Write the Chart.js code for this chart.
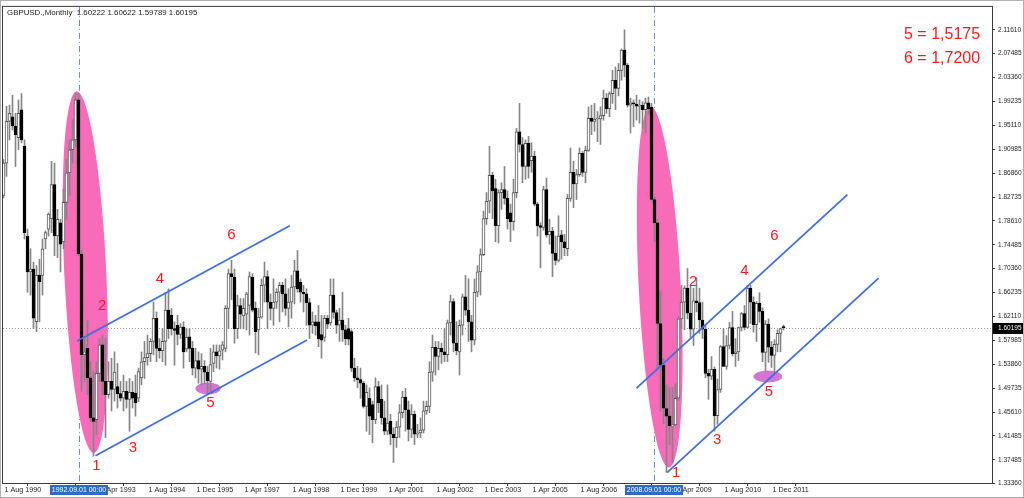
<!DOCTYPE html>
<html><head><meta charset="utf-8">
<script src="https://cdn.jsdelivr.net/npm/chart.js@4/dist/chart.umd.min.js"></script>
<style>html,body{margin:0;padding:0;background:#fff;overflow:hidden}#wrap{width:1024px;height:498px}</style>
</head><body><div id="wrap"><canvas id="c" width="1024" height="498"></canvas></div>
<script>
// Monthly GBPUSD bars, index 0 = Aug 1990 ... 260 = Apr 2012
const opens = [1.830,1.886,1.958,1.966,1.950,1.930,1.978,1.915,1.760,1.698,1.703,1.612,1.692,1.692,1.755,1.772,1.790,1.849,1.760,1.783,1.750,1.818,1.869,1.909,1.926,1.995,1.729,1.555,1.566,1.515,1.446,1.443,1.523,1.572,1.509,1.486,1.509,1.495,1.500,1.488,1.480,1.492,1.478,1.490,1.489,1.480,1.515,1.543,1.550,1.557,1.578,1.618,1.566,1.562,1.578,1.632,1.623,1.600,1.606,1.590,1.603,1.565,1.586,1.566,1.532,1.545,1.530,1.535,1.525,1.509,1.540,1.560,1.553,1.563,1.566,1.635,1.695,1.689,1.600,1.640,1.622,1.625,1.640,1.689,1.635,1.598,1.620,1.675,1.690,1.646,1.635,1.646,1.663,1.675,1.660,1.635,1.646,1.672,1.700,1.680,1.663,1.660,1.645,1.606,1.612,1.612,1.590,1.585,1.618,1.610,1.658,1.628,1.606,1.615,1.598,1.600,1.595,1.532,1.515,1.512,1.506,1.466,1.480,1.469,1.443,1.500,1.478,1.446,1.423,1.440,1.418,1.412,1.430,1.455,1.482,1.460,1.426,1.452,1.418,1.420,1.425,1.458,1.466,1.525,1.568,1.552,1.566,1.560,1.555,1.610,1.647,1.575,1.560,1.606,1.655,1.632,1.612,1.580,1.663,1.698,1.728,1.790,1.820,1.865,1.842,1.778,1.835,1.840,1.825,1.800,1.785,1.835,1.940,1.918,1.880,1.920,1.890,1.898,1.815,1.778,1.775,1.840,1.762,1.768,1.730,1.718,1.762,1.750,1.738,1.825,1.870,1.850,1.866,1.903,1.870,1.908,1.963,1.958,1.962,1.962,1.968,1.998,1.980,2.006,2.029,2.015,2.046,2.081,2.055,1.986,1.990,1.988,1.984,1.986,1.978,1.990,1.982,1.823,1.783,1.609,1.537,1.462,1.449,1.432,1.434,1.480,1.617,1.646,1.670,1.627,1.599,1.648,1.645,1.615,1.599,1.523,1.518,1.530,1.450,1.495,1.569,1.535,1.571,1.602,1.557,1.560,1.602,1.626,1.602,1.670,1.646,1.607,1.644,1.630,1.559,1.608,1.568,1.554,1.573,1.592,1.60222];
const highs = [1.892,1.984,1.986,2.003,1.972,1.995,2.006,1.926,1.772,1.738,1.715,1.709,1.720,1.755,1.769,1.800,1.889,1.886,1.806,1.789,1.841,1.892,1.926,1.961,2.006,2.006,1.735,1.583,1.615,1.543,1.526,1.543,1.583,1.589,1.583,1.543,1.549,1.560,1.540,1.509,1.520,1.509,1.514,1.509,1.520,1.532,1.560,1.578,1.589,1.583,1.646,1.629,1.583,1.600,1.663,1.669,1.635,1.612,1.623,1.609,1.612,1.600,1.600,1.578,1.566,1.560,1.557,1.545,1.535,1.566,1.572,1.572,1.572,1.578,1.640,1.703,1.718,1.703,1.658,1.652,1.652,1.663,1.698,1.695,1.646,1.635,1.686,1.715,1.700,1.660,1.686,1.669,1.680,1.680,1.686,1.669,1.692,1.718,1.735,1.686,1.675,1.669,1.652,1.629,1.623,1.640,1.623,1.623,1.623,1.686,1.686,1.632,1.635,1.663,1.606,1.618,1.598,1.549,1.535,1.532,1.509,1.503,1.498,1.475,1.515,1.509,1.503,1.475,1.503,1.452,1.429,1.440,1.469,1.492,1.497,1.475,1.469,1.458,1.435,1.446,1.475,1.475,1.543,1.589,1.578,1.578,1.575,1.600,1.615,1.658,1.652,1.612,1.615,1.660,1.692,1.686,1.623,1.686,1.709,1.738,1.803,1.835,1.915,1.870,1.858,1.840,1.852,1.880,1.838,1.815,1.858,1.946,1.989,1.930,1.926,1.932,1.921,1.906,1.818,1.783,1.846,1.860,1.789,1.775,1.760,1.795,1.770,1.763,1.832,1.912,1.889,1.875,1.912,1.906,1.915,1.983,1.986,1.989,1.975,1.983,2.012,2.006,2.009,2.046,2.052,2.058,2.083,2.116,2.058,1.998,1.995,2.003,1.995,1.992,1.998,2.000,1.989,1.828,1.789,1.665,1.549,1.503,1.499,1.499,1.505,1.621,1.675,1.674,1.704,1.675,1.670,1.688,1.670,1.646,1.606,1.530,1.552,1.534,1.513,1.571,1.600,1.588,1.611,1.630,1.583,1.603,1.628,1.640,1.675,1.675,1.655,1.647,1.662,1.636,1.614,1.617,1.578,1.581,1.598,1.601,1.60622];
const lows = [1.826,1.863,1.926,1.943,1.880,1.909,1.921,1.755,1.663,1.658,1.600,1.595,1.612,1.658,1.738,1.760,1.766,1.726,1.723,1.698,1.738,1.789,1.829,1.886,1.915,1.726,1.492,1.509,1.486,1.440,1.380,1.417,1.509,1.486,1.412,1.480,1.458,1.475,1.463,1.475,1.458,1.463,1.423,1.463,1.449,1.474,1.503,1.514,1.537,1.543,1.555,1.543,1.549,1.543,1.537,1.583,1.589,1.537,1.572,1.583,1.532,1.560,1.543,1.520,1.515,1.506,1.503,1.505,1.488,1.489,1.526,1.532,1.530,1.546,1.560,1.600,1.650,1.575,1.583,1.600,1.600,1.598,1.589,1.629,1.558,1.555,1.618,1.646,1.600,1.615,1.606,1.635,1.612,1.629,1.623,1.603,1.618,1.643,1.663,1.646,1.629,1.606,1.583,1.592,1.589,1.569,1.549,1.578,1.600,1.606,1.618,1.592,1.578,1.578,1.572,1.572,1.526,1.509,1.498,1.480,1.463,1.423,1.417,1.403,1.436,1.455,1.435,1.417,1.417,1.400,1.369,1.395,1.412,1.446,1.423,1.406,1.412,1.400,1.412,1.412,1.420,1.452,1.455,1.509,1.520,1.529,1.540,1.543,1.543,1.589,1.560,1.555,1.520,1.589,1.623,1.578,1.560,1.572,1.655,1.658,1.726,1.780,1.800,1.790,1.750,1.748,1.806,1.815,1.772,1.750,1.770,1.826,1.905,1.852,1.858,1.860,1.870,1.812,1.760,1.705,1.770,1.758,1.746,1.690,1.710,1.715,1.720,1.726,1.726,1.820,1.809,1.823,1.863,1.863,1.852,1.906,1.935,1.941,1.923,1.918,1.960,1.972,1.966,1.989,1.978,2.002,2.029,2.035,1.983,1.938,1.949,1.960,1.955,1.946,1.938,1.970,1.818,1.750,1.528,1.458,1.436,1.352,1.400,1.368,1.433,1.476,1.600,1.598,1.617,1.585,1.571,1.629,1.592,1.583,1.515,1.478,1.512,1.423,1.435,1.490,1.535,1.530,1.565,1.553,1.535,1.545,1.596,1.598,1.601,1.609,1.594,1.578,1.611,1.543,1.527,1.542,1.533,1.523,1.560,1.560,1.59789];
const closes = [1.886,1.958,1.972,1.950,1.935,1.972,1.926,1.766,1.698,1.703,1.618,1.692,1.681,1.738,1.766,1.798,1.849,1.760,1.789,1.746,1.818,1.869,1.909,1.926,1.995,1.729,1.555,1.560,1.515,1.446,1.440,1.523,1.572,1.509,1.486,1.509,1.495,1.525,1.488,1.480,1.492,1.478,1.490,1.480,1.472,1.526,1.543,1.550,1.557,1.578,1.618,1.566,1.562,1.578,1.632,1.600,1.600,1.597,1.590,1.603,1.560,1.585,1.566,1.532,1.545,1.530,1.535,1.525,1.510,1.538,1.560,1.553,1.562,1.572,1.635,1.695,1.690,1.600,1.640,1.625,1.635,1.660,1.690,1.632,1.595,1.620,1.675,1.690,1.646,1.635,1.646,1.663,1.675,1.660,1.635,1.646,1.672,1.700,1.669,1.663,1.660,1.645,1.606,1.612,1.605,1.583,1.580,1.618,1.608,1.658,1.628,1.606,1.615,1.598,1.583,1.582,1.532,1.515,1.512,1.506,1.466,1.490,1.449,1.443,1.500,1.472,1.446,1.423,1.437,1.418,1.412,1.430,1.455,1.482,1.460,1.426,1.452,1.418,1.420,1.425,1.458,1.466,1.525,1.568,1.552,1.566,1.560,1.555,1.610,1.647,1.575,1.562,1.606,1.655,1.632,1.612,1.580,1.663,1.698,1.728,1.790,1.820,1.865,1.838,1.778,1.835,1.840,1.825,1.790,1.785,1.835,1.940,1.918,1.880,1.920,1.880,1.898,1.815,1.778,1.775,1.840,1.762,1.768,1.730,1.718,1.760,1.750,1.740,1.825,1.870,1.850,1.866,1.903,1.870,1.908,1.963,1.958,1.962,1.963,1.968,1.998,1.980,2.006,2.029,2.015,2.046,2.081,2.055,1.986,1.990,1.988,1.984,1.986,1.978,1.990,1.980,1.823,1.783,1.609,1.537,1.463,1.449,1.432,1.434,1.480,1.617,1.646,1.670,1.627,1.599,1.648,1.645,1.615,1.599,1.523,1.518,1.530,1.450,1.495,1.569,1.535,1.571,1.602,1.557,1.560,1.602,1.626,1.602,1.670,1.646,1.607,1.644,1.630,1.559,1.608,1.568,1.554,1.573,1.592,1.600,1.60195];

const xTickIndex = [0,16,32,48,64,80,96,112,128,144,160,176,192,208,224,240,256];
const xTickLabels = ['1 Aug 1990','1 Dec 1991','1 Apr 1993','1 Aug 1994','1 Dec 1995','1 Apr 1997','1 Aug 1998','1 Dec 1999','1 Apr 2001','1 Aug 2002','1 Dec 2003','1 Apr 2005','1 Aug 2006','1 Dec 2007','1 Apr 2009','1 Aug 2010','1 Dec 2011'];
const yTickValues = [2.11610,2.07485,2.03360,1.99235,1.95110,1.90985,1.86860,1.82735,1.78610,1.74485,1.70360,1.66235,1.62110,1.57985,1.53860,1.49735,1.45610,1.41485,1.37360,1.33360];
const yTickLabels = ['2.11610','2.07485','2.03360','1.99235','1.95110','1.90985','1.86860','1.82735','1.78610','1.74485','1.70360','1.66235','1.62110','1.57985','1.53860','1.49735','1.45610','1.41485','1.37485','1.33360'];

const headerText = 'GBPUSD.,Monthly  1.60222 1.60622 1.59789 1.60195';
const currentPrice = 1.60195;
const currentPriceLabel = '1.60195';
const markerMonths = [25, 217];
const markerLabels = ['1992.09.01 00:00', '2008.09.01 00:00'];
const noteTexts = ['5 = 1,5175', '6 = 1,7200'];
// annotation geometry in data units (month index, price)
const trendLines = [
  [30.67, 1.3807, 101.2, 1.5804],
  [24.57, 1.5787, 95.43, 1.7777],
  [211.0, 1.4974, 281.3, 1.8314],
  [221.2, 1.3516, 291.7, 1.6873]
];
const waveLabels = [
  ['1', 31.0, 1.3631], ['2', 32.9, 1.6393], ['3', 43.1, 1.3945], ['4', 52.1, 1.6861], ['5', 69.0, 1.4717], ['6', 76.0, 1.7616],
  ['1', 224.2, 1.3516], ['2', 229.9, 1.6816], ['3', 237.9, 1.4089], ['4', 247.0, 1.7005], ['5', 255.1, 1.4918], ['6', 257.0, 1.7605]
];
const bigEllipses = [
  [24.4, 2.0098, 30.1, 1.3854, 7.0],
  [215.67, 1.9835, 221.8, 1.3602, 7.0]
];
const smallEllipses = [
  [68.2, 1.4969, 4.2, 0.0103],
  [254.8, 1.5175, 4.8, 0.0103]
];

const wickData = highs.map((h, i) => ({x: i, y: [lows[i], h]}));
const bodyData = opens.map((o, i) => ({x: i, y: [o, closes[i]]}));
const bodyFill = opens.map((o, i) => closes[i] >= o ? '#ffffff' : '#000000');
const bodyLine = opens.map((o, i) => closes[i] >= o ? '#555555' : '#000000');

const FONT = "'Liberation Sans', Arial, sans-serif";

const overlay = {
  id: 'overlay',
  beforeDraw(chart) {
    const c = chart.ctx;
    c.save(); c.fillStyle = '#ffffff'; c.fillRect(0, 0, chart.width, chart.height); c.restore();
  },
  beforeDatasetsDraw(chart) {
    const c = chart.ctx, xs = chart.scales.x, ys = chart.scales.y, a = chart.chartArea;
    c.save();
    c.beginPath(); c.rect(a.left, a.top, a.right - a.left, a.bottom - a.top); c.clip();
    const py = Math.round(ys.getPixelForValue(currentPrice)) + 0.5;
    c.strokeStyle = '#9a9a9a'; c.lineWidth = 1; c.setLineDash([1, 2]);
    c.beginPath(); c.moveTo(a.left, py); c.lineTo(a.right, py); c.stroke();
    c.strokeStyle = '#6a8fe0'; c.setLineDash([6, 3, 1, 3]);
    markerMonths.forEach(m => {
      const x = Math.round(xs.getPixelForValue(m)) + 0.5;
      c.beginPath(); c.moveTo(x, a.top); c.lineTo(x, a.bottom); c.stroke();
    });
    c.setLineDash([]);
    c.fillStyle = '#f86bb8';
    bigEllipses.forEach(e => {
      const x1 = xs.getPixelForValue(e[0]), y1 = ys.getPixelForValue(e[1]);
      const x2 = xs.getPixelForValue(e[2]), y2 = ys.getPixelForValue(e[3]);
      const ra = Math.hypot(x2 - x1, y2 - y1) / 2;
      const rb = Math.abs(xs.getPixelForValue(e[0] + e[4]) - x1);
      c.beginPath(); c.ellipse((x1 + x2) / 2, (y1 + y2) / 2, ra, rb, Math.atan2(y2 - y1, x2 - x1), 0, Math.PI * 2); c.fill();
    });
    c.fillStyle = '#d674d6';
    smallEllipses.forEach(e => {
      const cx = xs.getPixelForValue(e[0]), cy = ys.getPixelForValue(e[1]);
      const rx = Math.abs(xs.getPixelForValue(e[0] + e[2]) - cx);
      const ry = Math.abs(ys.getPixelForValue(e[1] + e[3]) - cy);
      c.beginPath(); c.ellipse(cx, cy, rx, ry, 0, 0, Math.PI * 2); c.fill();
    });
    c.restore();
  },
  afterDatasetsDraw(chart) {
    const c = chart.ctx, xs = chart.scales.x, ys = chart.scales.y, a = chart.chartArea;
    c.save();
    c.beginPath(); c.rect(a.left, a.top, a.right - a.left, a.bottom - a.top); c.clip();
    c.strokeStyle = '#3f6fe0'; c.lineWidth = 1.8;
    trendLines.forEach(t => {
      c.beginPath();
      c.moveTo(xs.getPixelForValue(t[0]), ys.getPixelForValue(t[1]));
      c.lineTo(xs.getPixelForValue(t[2]), ys.getPixelForValue(t[3]));
      c.stroke();
    });
    c.fillStyle = '#ff1a1a';
    c.font = '15px ' + FONT; c.textAlign = 'center'; c.textBaseline = 'middle';
    waveLabels.forEach(w => c.fillText(w[0], xs.getPixelForValue(w[1]), ys.getPixelForValue(w[2])));
    c.font = '16px ' + FONT; c.textAlign = 'left'; c.textBaseline = 'alphabetic';
    c.fillText(noteTexts[0], a.right - 88, a.top + 32);
    c.fillText(noteTexts[1], a.right - 88, a.top + 56);
    c.fillStyle = '#1a1a1a'; c.font = '7.9px ' + FONT; c.textBaseline = 'middle';
    c.fillText(headerText, a.left + 4, a.top + 6);
    c.restore();
  },
  afterDraw(chart) {
    const c = chart.ctx, xs = chart.scales.x, ys = chart.scales.y, a = chart.chartArea;
    c.save();
    c.strokeStyle = '#3a3a3a'; c.lineWidth = 1;
    c.strokeRect(a.left - 0.5, a.top - 0.5, a.right - a.left + 1, a.bottom - a.top + 1);
    c.strokeStyle = '#b0b0b0';
    c.strokeRect(0.5, 0.5, chart.width - 1, chart.height - 1);
    c.font = '7px ' + FONT; c.textAlign = 'center'; c.textBaseline = 'middle';
    markerMonths.forEach((m, i) => {
      const x = Math.round(xs.getPixelForValue(m));
      c.fillStyle = '#316ac5'; c.fillRect(x - 29, a.bottom + 2, 58, 10);
      c.fillStyle = '#ffffff'; c.fillText(markerLabels[i], x, a.bottom + 7.5);
    });
    const py = Math.round(ys.getPixelForValue(currentPrice));
    c.fillStyle = '#000000'; c.fillRect(a.right + 1, py - 5, 30, 11);
    c.fillStyle = '#ffffff'; c.font = '6.5px ' + FONT; c.textAlign = 'left';
    c.fillText(currentPriceLabel, a.right + 6, py + 0.5);
    c.restore();
  }
};

new Chart(document.getElementById('c'), {
  type: 'bar',
  data: {
    datasets: [
      {data: wickData, backgroundColor: '#858585', barThickness: 1, grouped: false, order: 2},
      {data: bodyData, backgroundColor: bodyFill, borderColor: bodyLine, borderWidth: 1, borderSkipped: false,
       barThickness: 3, grouped: false, minBarLength: 1, order: 1}
    ]
  },
  options: {
    responsive: false, animation: false, events: [],
    layout: {padding: {left: 3, top: 3, right: 0, bottom: 0}},
    plugins: {legend: {display: false}, tooltip: {enabled: false}, title: {display: false}},
    scales: {
      x: {
        type: 'linear', offset: false, min: -1 / 6, max: -1 / 6 + 989 / 3,
        afterBuildTicks: s => { s.ticks = xTickIndex.map(v => ({value: v})); },
        afterFit: s => { s.height = 15; },
        ticks: {autoSkip: false, maxRotation: 0, minRotation: 0, align: 'start', labelOffset: 1, padding: 0,
                color: '#222', font: {family: FONT, size: 7.2},
                callback: (v, i) => xTickLabels[i]},
        grid: {display: true, drawOnChartArea: false, drawTicks: true, tickLength: 3, color: '#333'},
        border: {display: true, color: '#333'}
      },
      y: {
        type: 'linear', position: 'right', min: 1.3336, max: 2.1556,
        afterBuildTicks: s => { s.ticks = yTickValues.map(v => ({value: v})); },
        afterFit: s => { s.width = 32; },
        ticks: {autoSkip: false, padding: 3, color: '#222', font: {family: FONT, size: 6.5},
                callback: (v, i) => yTickLabels[i]},
        grid: {display: true, drawOnChartArea: false, drawTicks: true, tickLength: 3, color: '#333'},
        border: {display: true, color: '#333'}
      }
    }
  },
  plugins: [overlay]
});
</script>
</body></html>
